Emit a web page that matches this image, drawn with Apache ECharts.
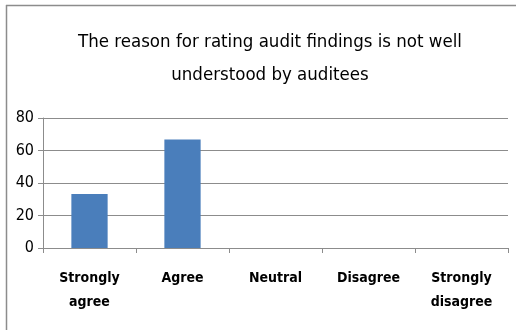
<!DOCTYPE html>
<html>
<head>
<meta charset="utf-8">
<script src="https://cdn.jsdelivr.net/npm/echarts@6/dist/echarts.min.js"></script>
<style>
  html, body { margin: 0; padding: 0; background: #fff; }
  #chart { width: 516px; height: 330px; }
</style>
</head>
<body>
<div id="chart"></div>
<script>
const categories = ['Strongly\nagree', 'Agree', 'Neutral', 'Disagree', 'Strongly\ndisagree']
const values = [33.3, 66.7, 0, 0, 0]
const yTicks = [0, 20, 40, 60, 80]

const font = "'Liberation Sans Narrow', 'DejaVu Sans Condensed', sans-serif"

const chart = echarts.init(document.getElementById('chart'))

chart.setOption({
  animation: false,
  title: {
    text: 'The reason for rating audit findings is not well\nunderstood by auditees',
    left: 265,
    textAlign: 'center',
    top: 21,
    textStyle: {
      color: '#000',
      fontFamily: font,
      fontSize: 18.5,
      fontWeight: 'normal',
      lineHeight: 33
    }
  },
  graphic: [
    { type: 'line', shape: { x1: 6, y1: 5.5, x2: 516, y2: 5.5 }, style: { stroke: '#8c8c8c', lineWidth: 1.5 } },
    { type: 'line', shape: { x1: 6.5, y1: 5, x2: 6.5, y2: 330 }, style: { stroke: '#8c8c8c', lineWidth: 1.5 } }
  ],
  grid: { left: 43, right: 8, top: 118, bottom: 82 },
  xAxis: {
    type: 'category',
    data: categories,
    axisLine: { lineStyle: { color: '#8c8c8c', width: 1 } },
    axisTick: { show: true, length: 5, lineStyle: { color: '#8c8c8c' } },
    axisLabel: {
      color: '#000',
      fontFamily: font,
      fontSize: 14,
      fontWeight: 'bold',
      lineHeight: 24,
      margin: 18,
      interval: 0
    }
  },
  yAxis: {
    type: 'value',
    min: yTicks[0],
    max: yTicks[yTicks.length - 1],
    interval: 20,
    axisLine: { show: true, lineStyle: { color: '#8c8c8c', width: 1 } },
    axisTick: { show: true, length: 5, lineStyle: { color: '#8c8c8c' } },
    axisLabel: { color: '#000', fontFamily: font, fontSize: 16, margin: 9 },
    splitLine: { lineStyle: { color: '#8c8c8c', width: 1 } }
  },
  series: [{
    type: 'bar',
    data: values,
    barWidth: '39%',
    itemStyle: { color: '#4a7ebb' }
  }]
})
</script>
</body>
</html>
